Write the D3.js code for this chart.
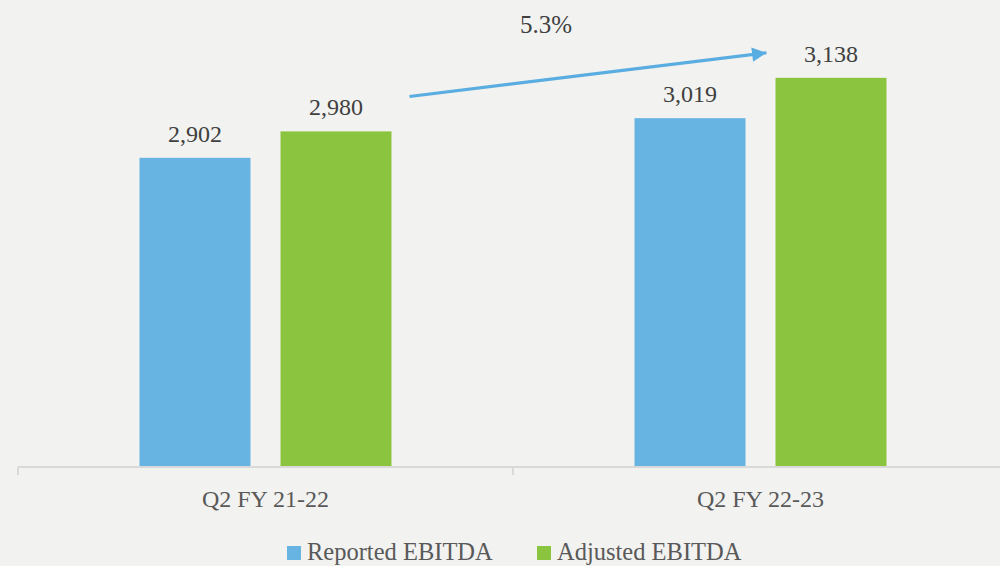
<!DOCTYPE html>
<html>
<head>
<meta charset="utf-8">
<script src="https://cdn.jsdelivr.net/npm/d3@7"></script>
<style>
  html, body { margin: 0; padding: 0; background: #f2f2f0; }
  svg { display: block; }
  text { font-family: "Palatino Linotype", "Book Antiqua", Palatino, "Liberation Serif", serif; }
</style>
</head>
<body>
<svg id="chart" width="1000" height="566"></svg>
<script>
// EBITDA trimestriel — reporté vs ajusté
const categories = ['Q2 FY 21-22', 'Q2 FY 22-23'];
const seriesNames = ['Reported EBITDA', 'Adjusted EBITDA'];
const reported = [2902, 3019];
const adjusted = [2980, 3138];
const growthLabel = '5.3%';

const COLORS = ['#67b4e3', '#8bc43f'];
const TEXT = '#404040';
const FONT = '"Palatino Linotype", "Book Antiqua", Palatino, "Liberation Serif", serif';

const W = 1000, H = 566;
const BASE_Y = 467;
const svg = d3.select('#chart');

svg.append('rect').attr('width', W).attr('height', H).attr('fill', '#f2f2f0');

const x0 = d3.scaleBand().domain(categories).range([18, 1008]).padding(0);
const x1 = d3.scaleBand().domain(seriesNames).range([0, x0.bandwidth()])
  .paddingInner(0.2128).paddingOuter(0.8617);
// l'axe ne part pas de zéro
const y = d3.scaleLinear().domain([1990, 3150]).range([BASE_Y, BASE_Y - 0.339 * 1160]);

const rows = categories.map((c, i) => ({ cat: c, values: [reported[i], adjusted[i]] }));

const groups = svg.selectAll('g.grp').data(rows).enter().append('g')
  .attr('class', 'grp')
  .attr('transform', d => `translate(${x0(d.cat)},0)`);

groups.selectAll('rect').data(d => d.values.map((v, k) => ({ s: seriesNames[k], v, k })))
  .enter().append('rect')
  .attr('x', d => x1(d.s)).attr('width', x1.bandwidth())
  .attr('y', d => y(d.v)).attr('height', d => BASE_Y - y(d.v))
  .attr('fill', d => COLORS[d.k]);

groups.selectAll('text.val').data(d => d.values.map((v, k) => ({ s: seriesNames[k], v, k })))
  .enter().append('text').attr('class', 'val')
  .attr('x', d => x1(d.s) + x1.bandwidth() / 2)
  .attr('y', d => y(d.v) - 16)
  .attr('text-anchor', 'middle')
  .style('font-size', '24px').style('fill', TEXT)
  .text(d => d3.format(',')(d.v));

// axe horizontal
const axis = svg.append('g').attr('transform', `translate(0,${BASE_Y})`)
  .call(d3.axisBottom(x0).tickSize(0).tickPadding(0));
axis.select('.domain').remove();
axis.append('line').attr('x1', 18).attr('x2', W).attr('stroke', '#d9d9d9').attr('stroke-width', 2);
[18, x0(categories[1]), 1008].forEach(tx => {
  axis.append('line').attr('x1', tx).attr('x2', tx).attr('y1', 0).attr('y2', 8)
    .attr('stroke', '#d9d9d9').attr('stroke-width', 2);
});
axis.selectAll('.tick text')
  .attr('y', 40).attr('dy', null)
  .style('font-size', '24px').style('fill', '#595959')
  .style('font-family', FONT);

// flèche de croissance
const ax1 = x0(categories[0]) + x1(seriesNames[1]) + x1.bandwidth() + 18;
const ay1 = y(adjusted[0]) - 35;
const ax2 = x0(categories[1]) + x1(seriesNames[1]) - 9;
const ay2 = y(adjusted[1]) - 25;
svg.append('defs').append('marker')
  .attr('id', 'head').attr('viewBox', '0 0 10 10').attr('refX', 10).attr('refY', 5)
  .attr('markerWidth', 5).attr('markerHeight', 4.8).attr('orient', 'auto')
  .attr('markerUnits', 'strokeWidth')
  .append('path').attr('d', 'M0,0 L10,5 L0,10 Z').attr('fill', '#5aade0');
svg.append('line')
  .attr('x1', ax1).attr('y1', ay1).attr('x2', ax2).attr('y2', ay2)
  .attr('stroke', '#5aade0').attr('stroke-width', 3)
  .attr('marker-end', 'url(#head)');
svg.append('text')
  .attr('x', 546).attr('y', 33).attr('text-anchor', 'middle')
  .style('font-size', '25px').style('fill', TEXT)
  .text(growthLabel);

// légende
const legend = svg.append('g').attr('transform', 'translate(0,553)');
const legX = [287, 537];
seriesNames.forEach((s, k) => {
  legend.append('rect').attr('x', legX[k]).attr('y', -7).attr('width', 14).attr('height', 14).attr('fill', COLORS[k]);
  legend.append('text').attr('x', legX[k] + 20).attr('y', 7)
    .style('font-size', '24.5px').style('fill', '#595959').text(s);
});
</script>
</body>
</html>
